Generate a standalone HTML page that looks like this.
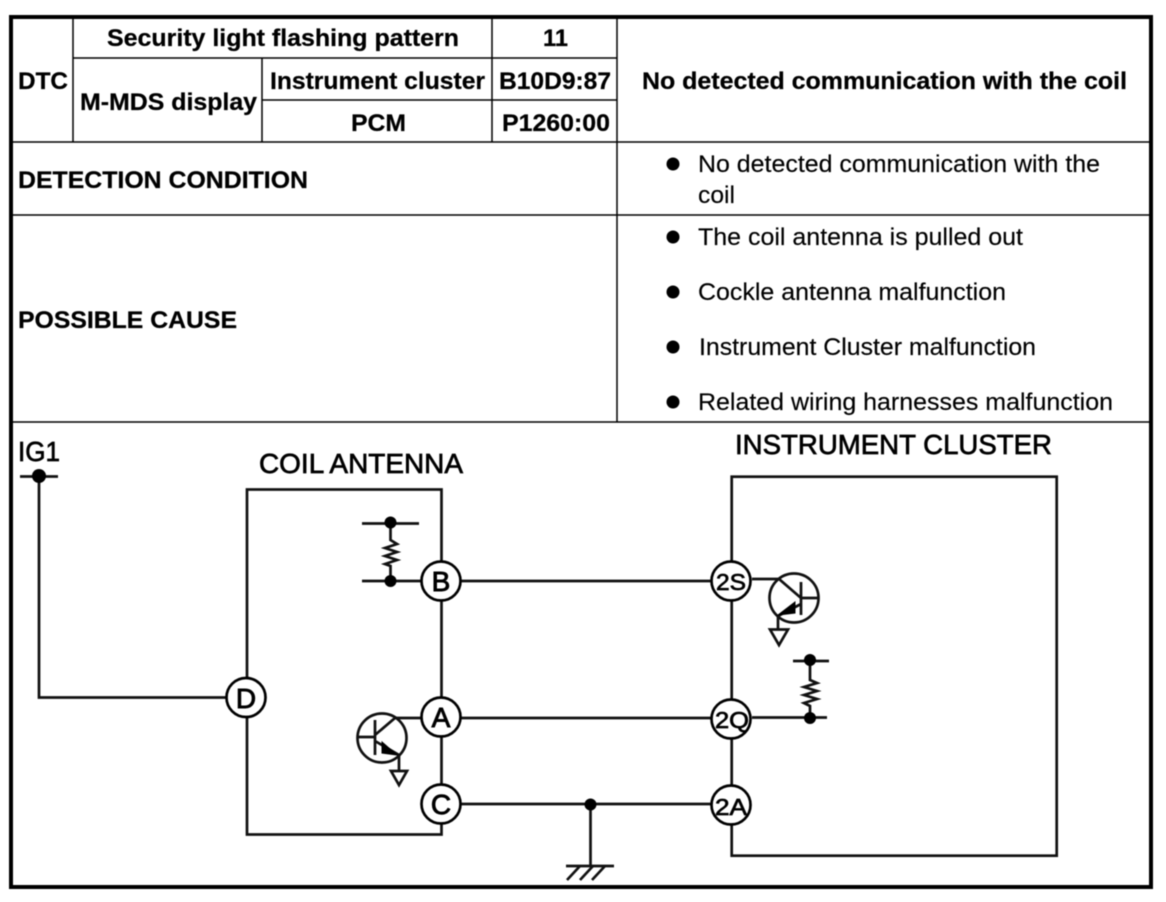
<!DOCTYPE html>
<html><head><meta charset="utf-8"><style>
html,body{margin:0;padding:0;background:#fff}
svg{display:block;filter:blur(.45px)}
text{font-family:"Liberation Sans",Arial,sans-serif;fill:#000}
.b{font-weight:700;font-size:24px;stroke:#000;stroke-width:.25px}
.r{font-size:24px;stroke:#000;stroke-width:.15px}
.c{font-size:28px;stroke:#000;stroke-width:.7px}
.n{font-size:28px;text-anchor:middle;stroke:#000;stroke-width:.9px}
.s{font-size:23px;text-anchor:middle;stroke:#000;stroke-width:.7px}
.t{stroke:#000;stroke-width:1.5;fill:none}
.w{stroke:#111;stroke-width:2.7;fill:none}
.p{fill:#fff;stroke:#000;stroke-width:2.7}
</style></head><body>
<svg xmlns="http://www.w3.org/2000/svg" width="1166" height="902" viewBox="0 0 1166 902">
<rect width="1166" height="902" fill="#fff"/>
<!-- table -->
<rect x="11" y="17" width="1140" height="870" fill="none" stroke="#000" stroke-width="4"/>
<path class="t" d="M73 17V142M492 17V142M617 17V422M262 58V142M73 58H617M262 100H617M11 142H1151M11 215H1151M11 422H1151"/>
<text class="b" x="107" y="46" textLength="352" lengthAdjust="spacingAndGlyphs">Security light flashing pattern</text>
<text class="b" x="543" y="46" textLength="25" lengthAdjust="spacingAndGlyphs">11</text>
<text class="b" x="18" y="89" textLength="50" lengthAdjust="spacingAndGlyphs">DTC</text>
<text class="b" x="80" y="110" textLength="177" lengthAdjust="spacingAndGlyphs">M-MDS display</text>
<text class="b" x="270" y="89" textLength="215" lengthAdjust="spacingAndGlyphs">Instrument cluster</text>
<text class="b" x="499" y="89" textLength="112" lengthAdjust="spacingAndGlyphs">B10D9:87</text>
<text class="b" x="351" y="131" textLength="55" lengthAdjust="spacingAndGlyphs">PCM</text>
<text class="b" x="502" y="131" textLength="108" lengthAdjust="spacingAndGlyphs">P1260:00</text>
<text class="b" x="642" y="89" textLength="485" lengthAdjust="spacingAndGlyphs">No detected communication with the coil</text>
<text class="b" x="18" y="188" textLength="290" lengthAdjust="spacingAndGlyphs">DETECTION CONDITION</text>
<text class="b" x="18" y="328" textLength="219" lengthAdjust="spacingAndGlyphs">POSSIBLE CAUSE</text>
<g fill="#000"><circle cx="673" cy="164" r="6.5"/><circle cx="673" cy="237" r="6.5"/><circle cx="673" cy="292" r="6.5"/><circle cx="673" cy="347" r="6.5"/><circle cx="673" cy="402" r="6.5"/></g>
<text class="r" x="698" y="172" textLength="402" lengthAdjust="spacingAndGlyphs">No detected communication with the</text>
<text class="r" x="698" y="203" textLength="37" lengthAdjust="spacingAndGlyphs">coil</text>
<text class="r" x="698" y="245" textLength="325" lengthAdjust="spacingAndGlyphs">The coil antenna is pulled out</text>
<text class="r" x="698" y="300" textLength="308" lengthAdjust="spacingAndGlyphs">Cockle antenna malfunction</text>
<text class="r" x="699" y="355" textLength="337" lengthAdjust="spacingAndGlyphs">Instrument Cluster malfunction</text>
<text class="r" x="698" y="410" textLength="415" lengthAdjust="spacingAndGlyphs">Related wiring harnesses malfunction</text>
<!-- labels -->
<text class="c" x="18" y="461" textLength="42" lengthAdjust="spacingAndGlyphs">IG1</text>
<text class="c" x="259" y="473" textLength="204" lengthAdjust="spacingAndGlyphs">COIL ANTENNA</text>
<text class="c" x="735" y="454" textLength="317" lengthAdjust="spacingAndGlyphs">INSTRUMENT CLUSTER</text>
<!-- boxes and wires -->
<rect class="w" x="247" y="489.5" width="194.5" height="345"/>
<rect class="w" x="731.7" y="476.7" width="325" height="379"/>
<path class="w" d="M20 476.5H58M39 476V697.5H226M460 581H712M460 718H712M460 804H712M590.5 804V866"/>
<circle cx="39" cy="476" r="7"/>
<circle cx="590.5" cy="804.5" r="6"/>
<!-- ground -->
<path class="w" d="M566 866H614"/>
<path class="w" stroke-width="3" d="M567 880L580 866M580 880L593 866M592 880L605 866"/>
<!-- coil resistor -->
<path class="w" d="M362 523.5H419M362 581H421M390.5 522V540L397 544L385 548L397 552L385 556L397 560L385 564L390.5 566V581"/>
<circle cx="390.5" cy="522.5" r="6"/>
<circle cx="390.5" cy="581" r="6"/>
<!-- coil transistor -->
<circle cx="382" cy="738" r="24.5" fill="#fff" stroke="#111" stroke-width="2.7"/>
<path class="w" d="M358 737H375M375 720V755M375 735L395 718H421M375 741L399 755V771"/>
<path d="M382 742L397 755L382 753Z" fill="#000" stroke="#000"/>
<path class="w" d="M391 771H407L399 785Z"/>
<!-- cluster transistor -->
<circle cx="794" cy="598" r="24.5" fill="#fff" stroke="#111" stroke-width="2.7"/>
<path class="w" d="M818 598H801M801 582V615M752 579H779L801 598M801 604L778 616V629"/>
<path d="M778 615L795 602L795 613Z" fill="#000" stroke="#000"/>
<path class="w" d="M770 629.5H788L779 645Z"/>
<!-- cluster resistor -->
<path class="w" d="M793 661H829M752 717.5H827M810 660V680L817 683L804 687L817 691L804 695L817 699L804 703L810 706V718"/>
<circle cx="810" cy="660" r="6"/>
<circle cx="810" cy="718" r="6"/>
<!-- connector circles -->
<circle class="p" cx="441" cy="581" r="19.5"/><text class="n" x="441" y="591">B</text>
<circle class="p" cx="441" cy="717" r="19.5"/><text class="n" x="441" y="727">A</text>
<circle class="p" cx="441" cy="804" r="19.5"/><text class="n" x="441" y="814">C</text>
<circle class="p" cx="246" cy="697.5" r="19.5"/><text class="n" x="246" y="708">D</text>
<circle class="p" cx="731" cy="581" r="19.5"/><text class="s" x="731" y="590" textLength="30" lengthAdjust="spacingAndGlyphs">2S</text>
<circle class="p" cx="731" cy="719" r="19.5"/><text class="s" x="732" y="728" textLength="34" lengthAdjust="spacingAndGlyphs">2Q</text>
<circle class="p" cx="731" cy="805" r="19.5"/><text class="s" x="731" y="815" textLength="32" lengthAdjust="spacingAndGlyphs">2A</text>
</svg>
</body></html>
